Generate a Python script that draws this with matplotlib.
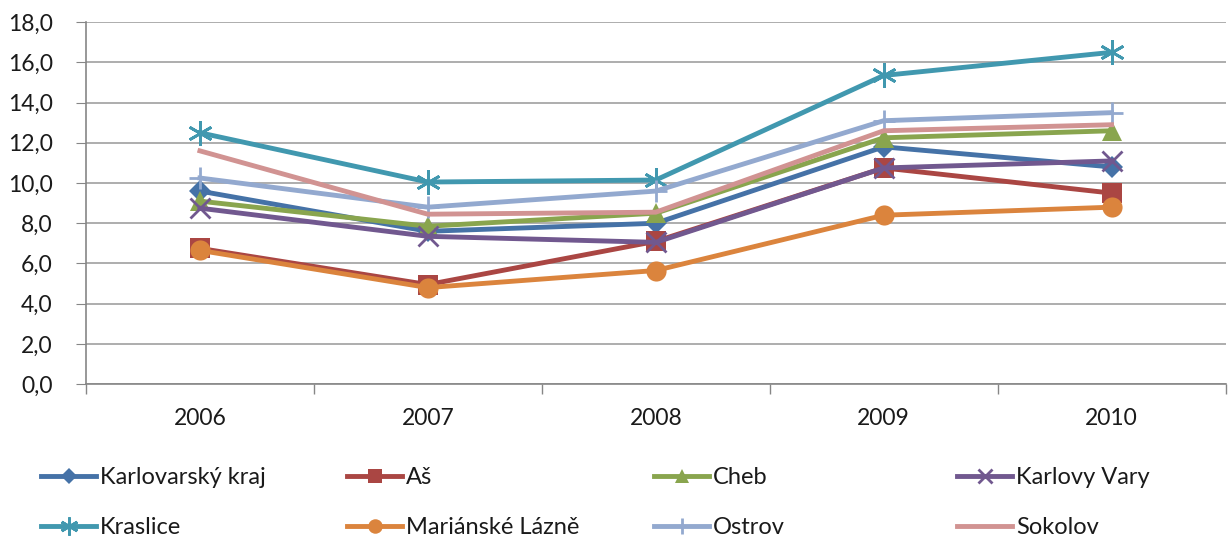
import matplotlib
matplotlib.use("Agg")
import matplotlib.pyplot as plt
from matplotlib.ticker import MultipleLocator, FuncFormatter

years = ["2006", "2007", "2008", "2009", "2010"]
karlovarsky_kraj = [9.6, 7.6, 8.0, 11.8, 10.8]
as_ = [6.75, 4.95, 7.1, 10.75, 9.5]
cheb = [9.1, 7.85, 8.5, 12.25, 12.6]
karlovy_vary = [8.75, 7.35, 7.05, 10.75, 11.1]
kraslice = [12.5, 10.05, 10.15, 15.35, 16.5]
marianske_lazne = [6.65, 4.8, 5.65, 8.4, 8.8]
ostrov = [10.25, 8.8, 9.6, 13.1, 13.5]
sokolov = [11.6, 8.45, 8.55, 12.6, 12.9]

series = [
    ("Karlovarský kraj", karlovarsky_kraj, "#4572A7", "D", 11.5),
    ("Aš", as_, "#AA4643", "s", 14),
    ("Cheb", cheb, "#89A54E", "^", 14),
    ("Karlovy Vary", karlovy_vary, "#71588F", "x", 14),
    ("Kraslice", kraslice, "#4198AF", (6, 2, 0), 18),
    ("Mariánské Lázně", marianske_lazne, "#DB843D", "o", 14.5),
    ("Ostrov", ostrov, "#93A9CF", "+", 16),
    ("Sokolov", sokolov, "#D19392", None, 0),
]

plt.rcParams['font.family'] = ['Lato', 'DejaVu Sans']
plt.rcParams['text.color'] = '#1a1a1a'

fig = plt.figure(figsize=(12.28, 5.41), dpi=100)
ax = fig.add_axes([0.070, 0.290, 0.928, 0.669])

x = list(range(len(years)))
handles = []
for name, vals, col, mk, ms in series:
    if mk is None:
        h, = ax.plot(x, vals, color=col, lw=3.5, label=name)
    elif mk in ("x", "+") or isinstance(mk, tuple):
        h, = ax.plot(x, vals, color=col, lw=3.5, marker=mk, markersize=ms,
                     markeredgewidth=2.0, label=name)
    else:
        h, = ax.plot(x, vals, color=col, lw=3.5, marker=mk, markersize=ms,
                     markeredgewidth=0, label=name)
    handles.append(h)

ax.set_xlim(-0.5, len(years) - 0.5)
ax.set_ylim(0, 18)
ax.yaxis.set_major_locator(MultipleLocator(2))
ax.yaxis.set_major_formatter(FuncFormatter(lambda v, p: f"{v:.1f}".replace(".", ",")))
ax.set_xticks(x)
ax.set_xticklabels(years)
ax.set_xticks([i - 0.5 for i in range(len(years) + 1)], minor=True)
ax.tick_params(axis='x', which='major', length=0, pad=17, labelsize=16.5,
               labelcolor='#1a1a1a')
ax.tick_params(axis='x', which='minor', length=7, color='#868686', width=1)
ax.tick_params(axis='y', length=7, color='#868686', labelsize=16.5, pad=17,
               labelcolor='#1a1a1a')
ax.grid(axis='y', color='#A0A0A0', lw=1.2)
ax.set_axisbelow(True)
for s in ['top', 'right']:
    ax.spines[s].set_visible(False)
for s in ['left', 'bottom']:
    ax.spines[s].set_color('#868686')
    ax.spines[s].set_linewidth(1.2)

W, H = 1228.0, 541.0
col_x = [41, 347, 654, 957]
row_y = [478, 528]
for i, h in enumerate(handles):
    r, c = divmod(i, 4)
    fig.legend([h], [h.get_label()], loc='center left',
               bbox_to_anchor=(col_x[c] / W, 1 - row_y[r] / H),
               frameon=False, fontsize=17, handlelength=2.35,
               handletextpad=0.15, borderpad=0, borderaxespad=0,
               markerscale=0.72)

fig.savefig("out.png", dpi=100)
